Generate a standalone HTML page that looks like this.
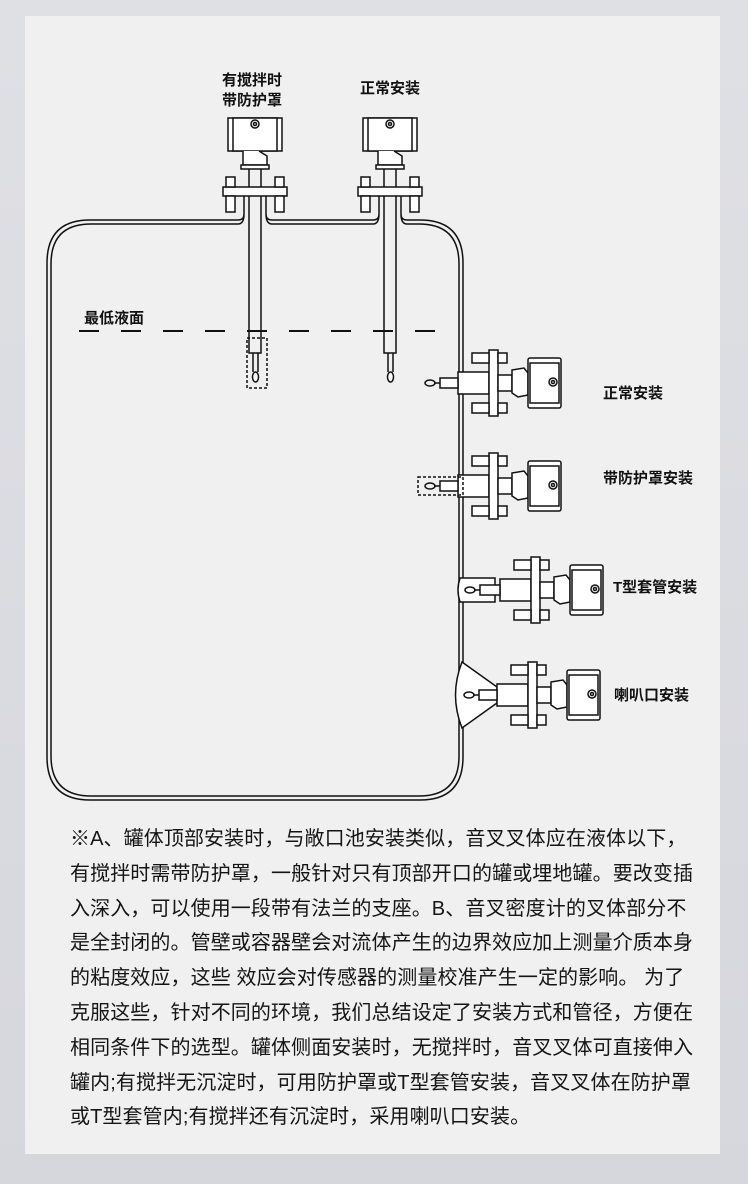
<!DOCTYPE html>
<html><head><meta charset="utf-8"><style>
html,body{margin:0;padding:0}
body{width:748px;height:1184px;background:linear-gradient(180deg,#dfe0e4,#d6d7dd);position:relative;overflow:hidden;font-family:"Liberation Sans","Noto Sans CJK SC",sans-serif}
.card{position:absolute;left:25px;top:16px;width:695px;height:1138px;background:#f0f0f0}
.txt{position:absolute;left:70px;top:822px;font-size:20px;line-height:34.8px;color:#151515;white-space:nowrap;letter-spacing:0.1px}
.lbl{position:absolute;font-size:15px;font-weight:bold;color:#111;line-height:20px}
svg{position:absolute;left:0;top:0}
</style></head><body>
<div class="card"></div>
<svg width="748" height="1184" viewBox="0 0 748 1184" fill="none" stroke="#111" stroke-width="1.5">
<defs>
<g id="vhead">
 <rect x="-27" y="0" width="54" height="33" fill="#fff"/>
 <rect x="-22" y="0" width="44" height="33" fill="#fff"/>
 <circle cx="0" cy="6" r="4"/><circle cx="0" cy="6" r="1.5"/>
 <path d="M-12 33 L-12 47 L12 47 L12 38 L4 33" fill="#fff"/>
 <rect x="-14" y="47" width="28" height="4" fill="#fff"/>
 <rect x="-32" y="69" width="64" height="9" fill="#fff"/>
 <rect x="-29" y="59" width="9" height="10" fill="#fff"/><rect x="20" y="59" width="9" height="10" fill="#fff"/>
 <rect x="-29" y="78" width="9" height="16" fill="#fff"/><rect x="20" y="78" width="9" height="16" fill="#fff"/>
</g>
<g id="hinst">
 <rect x="31" y="-33" width="9" height="66" fill="#fff"/>
 <rect x="14" y="-30" width="17" height="10" fill="#fff"/><rect x="40" y="-30" width="9" height="10" fill="#fff"/>
 <rect x="14" y="20" width="17" height="10" fill="#fff"/><rect x="40" y="20" width="9" height="10" fill="#fff"/>
 <rect x="40" y="-8" width="14" height="16" fill="#fff"/>
 <path d="M54 -13 L66 -15 L70 -10 L70 12 L60 14 L54 10 Z" fill="#fff"/>
 <rect x="70" y="-25" width="33" height="50" rx="2" fill="#fff"/>
 <rect x="72" y="-20" width="29" height="40" fill="#fff"/>
 <circle cx="95" cy="-1" r="4"/><circle cx="95" cy="-1" r="1.5"/>
</g>
</defs>
<!-- tank double wall -->
<path d="M90 220 H420 Q463 220 463 263 V757 Q463 800 420 800 H90 Q47 800 47 757 V263 Q47 220 90 220 Z"/>
<path d="M91 224 H419 Q459 224 459 264 V756 Q459 796 419 796 H91 Q51 796 51 756 V264 Q51 224 91 224 Z"/>
<!-- top nozzles -->
<path d="M243 196 Q245 220 238 219 L238 226 L272 226 L272 219 Q265 220 267 196 Z" fill="#f0f0f0" stroke="none"/>
<path d="M378 196 Q380 220 373 219 L373 226 L407 226 L407 219 Q400 220 402 196 Z" fill="#f0f0f0" stroke="none"/>
<path d="M244 196 V214 Q244 220 238 220 M266 196 V214 Q266 220 272 220 M244 214 Q244 224 238 224 M266 214 Q266 224 272 224"/>
<path d="M379 196 V214 Q379 220 373 220 M401 196 V214 Q401 220 407 220 M379 214 Q379 224 373 224 M401 214 Q401 224 407 224"/>
<rect x="249" y="165" width="12" height="188" fill="#f0f0f0"/>
<rect x="384" y="165" width="12" height="188" fill="#f0f0f0"/>
<g transform="translate(255,118)"><use href="#vhead"/></g>
<g transform="translate(390,118)"><use href="#vhead"/></g>
<path d="M253 353 V372 M258 353 V372 M388 353 V372 M393 353 V372"/>
<ellipse cx="255.5" cy="377" rx="3" ry="5" fill="#fff"/>
<ellipse cx="390.5" cy="377" rx="3" ry="5" fill="#fff"/>
<rect x="247" y="338" width="20" height="50" stroke-dasharray="3 2"/>
<!-- dashed liquid line -->
<path d="M79 331 H436" stroke-width="2" stroke-dasharray="20 22"/>
<!-- side instruments -->
<g transform="translate(458,383)">
 <rect x="0" y="-11" width="31" height="22" fill="#fff"/>
 <rect x="-18" y="-5" width="18" height="10" fill="#fff"/>
 <path d="M-18 0 H-24"/><ellipse cx="-28" cy="0" rx="5" ry="3"/>
 <use href="#hinst"/>
</g>
<g transform="translate(458,486)">
 <rect x="0" y="-11" width="31" height="22" fill="#fff"/>
 <rect x="-18" y="-5" width="18" height="10" fill="#fff"/>
 <path d="M-18 0 H-24"/><ellipse cx="-28" cy="0" rx="5" ry="3"/>
 <rect x="-40" y="-9" width="45" height="18" stroke-dasharray="3 2"/>
 <use href="#hinst"/>
</g>
<g transform="translate(500,590)">
 <path d="M-40 -12 H-5 V12 H-40 Q-44 0 -40 -12Z" fill="#fff"/>
 <rect x="0" y="-11" width="31" height="22" fill="#fff"/>
 <rect x="-20" y="-5" width="20" height="10" fill="#fff"/>
 <path d="M-20 0 H-26"/><ellipse cx="-30" cy="0" rx="5" ry="3"/>
 <use href="#hinst"/>
</g>
<g transform="translate(497,695)">
 <path d="M-35 -33 L0 -8 L0 8 L-35 33 Q-48 0 -35 -33Z" fill="#fff"/>
 <rect x="0" y="-11" width="31" height="22" fill="#fff"/>
 <rect x="-18" y="-5" width="18" height="10" fill="#fff"/>
 <path d="M-18 0 H-24"/><ellipse cx="-28" cy="0" rx="5" ry="3"/>
 <use href="#hinst"/>
</g>
</svg>
<div class="lbl" style="left:222px;top:71px">有搅拌时<br>带防护罩</div>
<div class="lbl" style="left:360px;top:79px">正常安装</div>
<div class="lbl" style="left:84px;top:309px">最低液面</div>
<div class="lbl" style="left:603px;top:384px">正常安装</div>
<div class="lbl" style="left:603px;top:469px">带防护罩安装</div>
<div class="lbl" style="left:613px;top:578px">T型套管安装</div>
<div class="lbl" style="left:614px;top:686px">喇叭口安装</div>
<div class="txt">※A、罐体顶部安装时，与敞口池安装类似，音叉叉体应在液体以下，<br>有搅拌时需带防护罩，一般针对只有顶部开口的罐或埋地罐。要改变插<br>入深入，可以使用一段带有法兰的支座。B、音叉密度计的叉体部分不<br>是全封闭的。管壁或容器壁会对流体产生的边界效应加上测量介质本身<br>的粘度效应，这些 效应会对传感器的测量校准产生一定的影响。 为了<br>克服这些，针对不同的环境，我们总结设定了安装方式和管径，方便在<br>相同条件下的选型。罐体侧面安装时，无搅拌时，音叉叉体可直接伸入<br>罐内;有搅拌无沉淀时，可用防护罩或T型套管安装，音叉叉体在防护罩<br>或T型套管内;有搅拌还有沉淀时，采用喇叭口安装。</div>
</body></html>
